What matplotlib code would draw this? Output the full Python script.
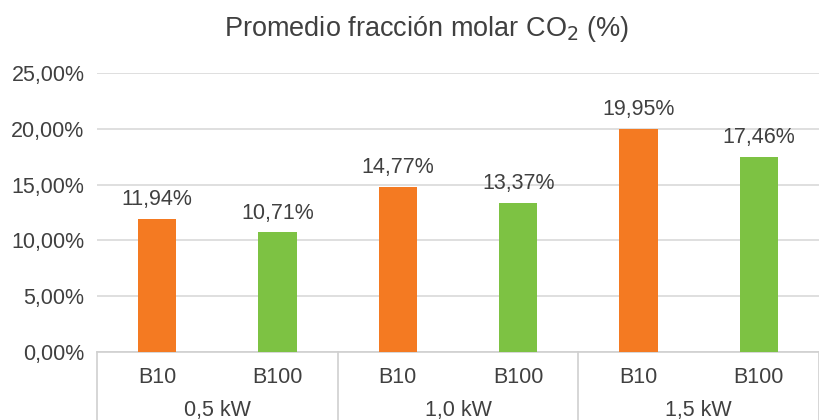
import matplotlib
matplotlib.use("Agg")
import matplotlib.pyplot as plt
from matplotlib.ticker import FuncFormatter, MultipleLocator

plt.rcParams['font.family'] = ['Liberation Sans', 'DejaVu Sans']

grupos = ['0,5 kW', '1,0 kW', '1,5 kW']
combustibles = ['B10', 'B100']
b10 = [11.94, 14.77, 19.95]
b100 = [10.71, 13.37, 17.46]
colores = {'B10': '#F47A22', 'B100': '#7DC243'}
texto = '#404040'

fig = plt.figure(figsize=(8.19, 4.2), dpi=100)
ax = fig.add_axes([0.1184, 0.162, 0.8816, 0.664])

valores = []
for i in range(len(grupos)):
    valores.append(('B10', b10[i]))
    valores.append(('B100', b100[i]))

x = list(range(len(valores)))
for xi, (comb, v) in zip(x, valores):
    ax.bar(xi, v, width=0.32, color=colores[comb], zorder=3)
    ax.text(xi, v + 0.8, f"{v:.2f}".replace('.', ',') + '%', ha='center', va='bottom',
            fontsize=15.5, color=texto)

ax.set_xlim(-0.5, len(valores) - 0.5)
ax.set_ylim(0, 25)
ax.yaxis.set_major_locator(MultipleLocator(5))
ax.yaxis.set_major_formatter(FuncFormatter(lambda v, p: f"{v:.2f}".replace('.', ',') + '%'))
ax.tick_params(axis='y', length=0, labelsize=15.5, labelcolor=texto, pad=9)
ax.tick_params(axis='x', length=0, labelbottom=False)
ax.grid(axis='y', color='#D9D9D9', linewidth=1.2, zorder=0)
for s in ['top', 'right', 'left']:
    ax.spines[s].set_visible(False)
ax.spines['bottom'].set_color('#D0D0D0')
ax.spines['bottom'].set_linewidth(1.2)

# eje de categorias en dos niveles
trans = ax.get_xaxis_transform()
for xi, (comb, v) in zip(x, valores):
    ax.text(xi, -0.09, comb, transform=trans, ha='center', va='center',
            fontsize=15.5, color=texto)
for g, nombre in enumerate(grupos):
    ax.text(2 * g + 0.5, -0.21, nombre, transform=trans, ha='center', va='center',
            fontsize=15.5, color=texto)
for sep in [-0.5, 1.5, 3.5, 5.5]:
    ax.plot([sep, sep], [0, -0.3], transform=trans, color='#D0D0D0',
            linewidth=1.2, clip_on=False)

fig.text(0.521, 0.93, 'Promedio fracción molar CO$_2$ (%)', ha='center', va='center',
         fontsize=19.5, color=texto)

fig.savefig('out.png', dpi=100)
